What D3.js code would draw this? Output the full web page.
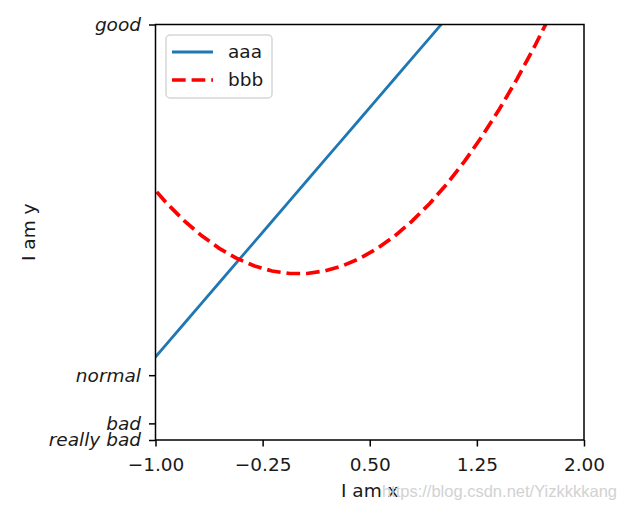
<!DOCTYPE html>
<html><head><meta charset="utf-8">
<script src="https://cdn.jsdelivr.net/npm/d3@7"></script>
<style>body{margin:0;background:#fff}svg{display:block}text{font-family:"DejaVu Sans",sans-serif}</style>
</head><body><svg id="c" width="626" height="505"></svg>
<script>
const xs = [-1.16327,-1.04082,-0.91837,-0.79592,-0.67347,-0.55102,-0.42857,-0.30612,-0.18367,-0.06122,0.06122,0.18367,0.30612,0.42857,0.55102,0.67347,0.79592,0.91837,1.04082,1.16327,1.28571,1.40816,1.53061,1.65306,1.77551,1.89796,2.02041];
const aaa = [-1.32653,-1.08163,-0.83673,-0.59184,-0.34694,-0.10204,0.14286,0.38776,0.63265,0.87755,1.12245,1.36735,1.61224,1.85714,2.10204,2.34694,2.59184,2.83673,3.08163,3.32653,3.57143,3.81633,4.06122,4.30612,4.55102,4.79592,5.04082];
const bbb = [1.35319,1.08330,0.84340,0.63349,0.45356,0.30362,0.18367,0.09371,0.03374,0.00375,0.00375,0.03374,0.09371,0.18367,0.30362,0.45356,0.63349,0.84340,1.08330,1.35319,1.65306,1.98292,2.34277,2.73261,3.15244,3.60225,4.08205];
const xTicks = [-1.00,-0.25,0.50,1.25,2.00];
const yTicks = [-2,-1.8,-1.22,3];
const yTickLabels = ["really bad","bad","normal","good"];
const seriesNames = ["aaa","bbb"];

const svg = d3.select("#c");
const L=155.5,R=584,T=24.5,B=440;
const FS="18.5px";
const x = d3.scaleLinear().domain([-1,2]).range([L,R]);
const y = d3.scaleLinear().domain([-2,3]).range([B,T]);

svg.append("defs").append("clipPath").attr("id","clip").append("rect")
  .attr("x",L).attr("y",T).attr("width",R-L).attr("height",B-T);

const g = svg.append("g").attr("clip-path","url(#clip)");
const line = d3.line().x((d,i)=>x(xs[i])).y(d=>y(d));
g.append("path").datum(aaa).attr("d",line).attr("fill","none").attr("stroke","#1f77b4").attr("stroke-width",2.8);
g.append("path").datum(bbb).attr("d",line).attr("fill","none").attr("stroke","#ff0000").attr("stroke-width",3.7).attr("stroke-dasharray","13.7,5.9");

const xa = svg.append("g").attr("transform",`translate(0,${B})`)
  .call(d3.axisBottom(x).tickValues(xTicks).tickFormat(d=>d3.format(".2f")(d).replace("-","\u2212")).tickSize(6.5).tickSizeOuter(0));
const ya = svg.append("g").attr("transform",`translate(${L},0)`)
  .call(d3.axisLeft(y).tickValues(yTicks).tickFormat((d,i)=>yTickLabels[i]).tickSize(6.5).tickSizeOuter(0));
[xa,ya].forEach(a=>{a.select(".domain").remove();a.selectAll("line").attr("stroke","#000").attr("stroke-width",1.5);
  a.selectAll("text").attr("fill","#1a1a1a").style("font-size",FS);});
xa.selectAll("text").attr("y",31).attr("dy","0");
ya.selectAll("text").style("font-style","italic").attr("x",-14.5).attr("dy","0.32em");

svg.append("rect").attr("x",L).attr("y",T).attr("width",R-L).attr("height",B-T)
  .attr("fill","none").attr("stroke","#000").attr("stroke-width",1.5);

svg.append("text").attr("x",(L+R)/2).attr("y",497).attr("text-anchor","middle").style("font-size",FS).attr("fill","#1a1a1a").text("I am x");
svg.append("text").attr("transform",`translate(35,${(T+B)/2}) rotate(-90)`).attr("text-anchor","middle").style("font-size",FS).attr("fill","#1a1a1a").text("I am y");

// legend
const lg = svg.append("g").attr("transform","translate(166,35)");
lg.append("rect").attr("width",106).attr("height",63).attr("rx",4).attr("fill","#fff").attr("stroke","#d6d6d6").attr("stroke-width",1.5);
const lstyles=[{c:"#1f77b4",w:2.8,da:null},{c:"#ff0000",w:3.7,da:"13.7,5.9"}];
seriesNames.forEach((n,i)=>{
  const yy = 17+i*28;
  lg.append("line").attr("x1",6).attr("x2",47).attr("y1",yy).attr("y2",yy).attr("stroke",lstyles[i].c).attr("stroke-width",lstyles[i].w).attr("stroke-dasharray",lstyles[i].da);
  lg.append("text").attr("x",62).attr("y",yy).attr("dy","0.35em").style("font-size",FS).attr("fill","#1a1a1a").text(n);
});

svg.append("text").attr("x",617).attr("y",497).attr("text-anchor","end").style("font-size","16.5px").attr("fill","#d2d2d2").style("font-family","'Liberation Sans', Arial, sans-serif").text("https://blog.csdn.net/Yizkkkkang");
</script></body></html>
